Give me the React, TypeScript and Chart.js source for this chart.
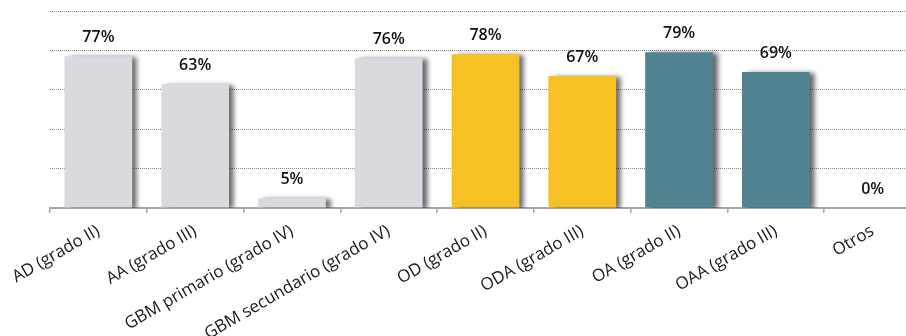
import React, { useEffect, useRef } from "react";
import { Chart, registerables } from "chart.js";

Chart.register(...registerables);

const categories = [
  "AD (grado II)",
  "AA (grado III)",
  "GBM primario (grado IV)",
  "GBM secundario (grado IV)",
  "OD (grado II)",
  "ODA (grado III)",
  "OA (grado II)",
  "OAA (grado III)",
  "Otros",
];
const values = [77, 63, 5, 76, 78, 67, 79, 69, 0];
const barColors = [
  "#d9d9df",
  "#d9d9df",
  "#d9d9df",
  "#d9d9df",
  "#f6c124",
  "#f6c124",
  "#528390",
  "#528390",
  "#d9d9df",
];
const yTicks = [0, 20, 40, 60, 80, 100];

const shadowPlugin = {
  id: "barShadow",
  beforeDatasetsDraw(chart: any) {
    const ctx = chart.ctx;
    ctx.save();
    ctx.shadowColor = "rgba(0,0,0,0.6)";
    ctx.shadowBlur = 5;
    ctx.shadowOffsetX = 5;
    ctx.shadowOffsetY = 1;
  },
  afterDatasetsDraw(chart: any) {
    chart.ctx.restore();
  },
};

const valueLabelPlugin = {
  id: "valueLabels",
  afterDatasetsDraw(chart: any) {
    const ctx = chart.ctx;
    const meta = chart.getDatasetMeta(0);
    ctx.save();
    ctx.font = "600 16px 'Open Sans'";
    ctx.fillStyle = "#111";
    ctx.textAlign = "center";
    ctx.textBaseline = "alphabetic";
    meta.data.forEach((bar: any, i: number) => {
      ctx.fillText(values[i] + "%", bar.x, bar.y - 14);
    });
    ctx.restore();
  },
};

export default function App() {
  const ref = useRef<HTMLCanvasElement>(null);
  useEffect(() => {
    if (!ref.current) return;
    const chart = new Chart(ref.current, {
      type: "bar",
      data: {
        labels: categories,
        datasets: [
          {
            data: values,
            backgroundColor: barColors,
            barPercentage: 0.7,
            categoryPercentage: 1,
            borderWidth: 0,
          },
        ],
      },
      options: {
        responsive: false,
        animation: false,
        events: [],
        layout: { padding: { top: 11, right: 19, left: 0, bottom: 0 } },
        plugins: { legend: { display: false }, tooltip: { enabled: false } },
        scales: {
          x: {
            grid: {
              drawOnChartArea: false,
              drawTicks: true,
              tickLength: 5,
              color: "#a6a6a6",
              lineWidth: 1.5,
              offset: true,
            },
            border: { display: true, color: "#a6a6a6", width: 2 },
            ticks: {
              minRotation: 30,
              maxRotation: 30,
              autoSkip: false,
              color: "#1a1a1a",
              font: { family: "'Open Sans'", size: 17 },
              padding: 8,
            },
            afterFit(scale: any) {
              scale.height = 128;
            },
          },
          y: {
            min: 0,
            max: 100,
            afterBuildTicks(scale: any) {
              scale.ticks = yTicks.map((v) => ({ value: v }));
            },
            ticks: { display: false },
            border: { display: false, dash: [1, 1] },
            grid: {
              drawTicks: false,
              color: "#8a8a8a",
              lineWidth: 1,
            },
            afterFit(scale: any) {
              scale.width = 50;
            },
          },
        },
      },
      plugins: [shadowPlugin, valueLabelPlugin],
    });
    return () => chart.destroy();
  }, []);
  return (
    <div
      style={{
        position: "absolute",
        left: 0,
        top: 0,
        width: 906,
        height: 336,
        overflow: "hidden",
        background: "#fff",
      }}
    >
      <canvas ref={ref} width={940} height={336} style={{ width: 940, height: 336 }} />
    </div>
  );
}
